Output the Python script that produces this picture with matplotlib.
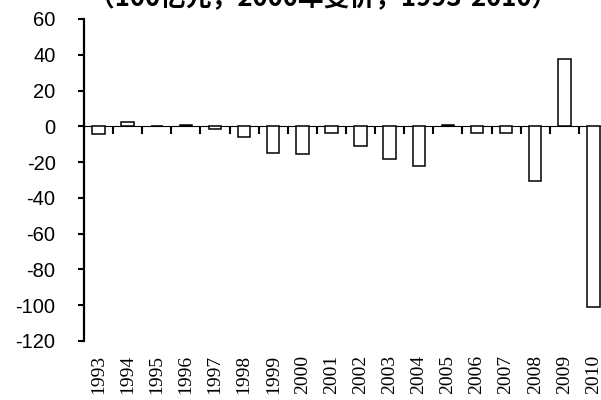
import matplotlib
matplotlib.use("Agg")
import matplotlib.pyplot as plt
import numpy as np

# 净出口变动（100亿元，2000年不变价）
years = ["1993", "1994", "1995", "1996", "1997", "1998", "1999", "2000", "2001",
         "2002", "2003", "2004", "2005", "2006", "2007", "2008", "2009", "2010"]
values = [-4.2, 2.2, 0.0, 0.9, -1.3, -6.0, -14.8, -15.2, -3.9,
          -10.8, -18.4, -21.9, 0.9, -3.6, -3.6, -30.5, 37.6, -100.9]
yticks = [60, 40, 20, 0, -20, -40, -60, -80, -100, -120]
title = "（100亿元，2000年变价，1993-2010）"

fig = plt.figure(figsize=(6.01, 4.0), dpi=100)
ax = fig.add_axes([84 / 601, 59 / 400, 524 / 601, 322 / 400])

x = np.arange(len(years))
ax.bar(x, values, width=0.43, facecolor="white", edgecolor="black", linewidth=1.1, zorder=3)

ax.set_xlim(-0.5, len(years) - 0.5)
ax.set_ylim(-120, 60)
ax.set_yticks(yticks)
ax.set_yticklabels([str(v) for v in yticks], fontfamily="Liberation Sans", fontsize=14.5)
ax.tick_params(axis="y", direction="out", length=4.5, width=1.5, pad=16)

for side in ["top", "right", "bottom"]:
    ax.spines[side].set_visible(False)
ax.spines["left"].set_linewidth(1.6)

# year labels along the bottom edge
ax.set_xticks(x)
ax.set_xticklabels(years, rotation=90, fontfamily="Liberation Serif", fontsize=14)
ax.tick_params(axis="x", length=0, pad=10)

# zero line with category boundary ticks hanging below it
zero = ax.secondary_xaxis((0 - ax.get_ylim()[0]) / (ax.get_ylim()[1] - ax.get_ylim()[0]))
zero.set_xticks(np.arange(len(years)) + 0.5)
zero.set_xticklabels([])
zero.tick_params(axis="x", direction="in", length=6, width=1.5)
zero.spines["bottom"].set_linewidth(2)

fig.text(0.538, 1 - 11.5 / 400, title, ha="center", va="bottom", fontsize=18.5, fontweight="bold",
         family=["Noto Sans CJK SC", "DejaVu Sans"])

fig.savefig("out.png", dpi=100)
